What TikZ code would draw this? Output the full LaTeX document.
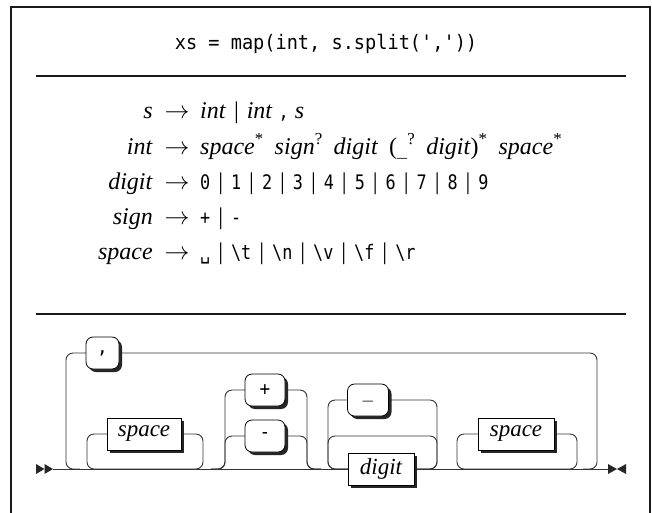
\documentclass[tikz,border=0pt]{standalone}
\usepackage{fontspec}
\setmainfont{Liberation Serif}
\newfontfamily\monof[FakeStretch=0.93]{DejaVu Sans Mono}
\newfontfamily\monog[FakeStretch=0.84]{DejaVu Sans Mono}
\usetikzlibrary{shadows,backgrounds}
\newcommand{\nt}[1]{\textit{#1}}
\newcommand{\tm}[1]{{\monog\fontsize{20}{24}\selectfont #1}}
\newcommand{\orbar}{\hspace{8pt}|\hspace{8pt}}
\newcommand{\gap}{\hspace{11pt}}
\newcommand{\sps}[1]{\textsuperscript{#1}}
\tikzset{
  frameline/.style={line width=1.1pt, draw=black!90},
  gtext/.style={inner sep=0pt, font=\fontsize{24}{28}\selectfont},
  garrow/.style={inner sep=0pt, font=\fontsize{23}{27}\selectfont},
  track/.style={draw=black!80, line width=0.9pt},
  boxshadow/.style={drop shadow={shadow xshift=3pt, shadow yshift=-3pt, opacity=1, fill=black!85}},
  terminal/.style={draw=black, line width=0.8pt, fill=white, rounded corners=7pt,
    minimum width=40pt, minimum height=32pt, inner sep=0pt,
    font=\monof\fontsize{19}{23}\selectfont, boxshadow},
  nonterminal/.style={draw=black, line width=0.8pt, fill=white,
    minimum width=74pt, minimum height=32pt, inner sep=0pt,
    font=\fontsize{23}{27}\selectfont\itshape, boxshadow},
  marker/.style={fill=black!85}
}
\begin{document}
\begin{tikzpicture}[x=1pt,y=-1pt]
\useasboundingbox (0,0) rectangle (652,512);
% frame and rules
\draw[frameline] (11,520) -- (11,7) -- (650,7) -- (650,520);
\draw[frameline] (36,76) -- (626,76);
\draw[frameline] (36,314) -- (626,314);
% title
\node[inner sep=0pt, anchor=base, font=\monof\fontsize{20}{24}\selectfont] (title) at (326,49) {xs = map(int, s.split(','))};
% grammar
\node[gtext, anchor=base east] (lhsS) at (153,118) {\nt{s}};
\node[garrow, anchor=base] (arrS) at (177,118) {$\rightarrow$};
\node[gtext, anchor=base west] (rhsS) at (200,118) {\nt{int}\orbar\nt{int}\hspace{6pt}\tm{,}\hspace{6pt}\nt{s}};

\node[gtext, anchor=base east] (lhsI) at (153,154) {\nt{int}};
\node[garrow, anchor=base] (arrI) at (177,154) {$\rightarrow$};
\node[gtext, anchor=base west] (rhsI) at (200,154) {\nt{space}\sps{*}\gap\nt{sign}\sps{?}\gap\nt{digit}\gap(\tm{\_}\sps{?}\gap\nt{digit})\sps{*}\gap\nt{space}\sps{*}};

\node[gtext, anchor=base east] (lhsD) at (153,189) {\nt{digit}};
\node[garrow, anchor=base] (arrD) at (177,189) {$\rightarrow$};
\node[gtext, anchor=base west] (rhsD) at (200,189) {\tm{0}\orbar\tm{1}\orbar\tm{2}\orbar\tm{3}\orbar\tm{4}\orbar\tm{5}\orbar\tm{6}\orbar\tm{7}\orbar\tm{8}\orbar\tm{9}};

\node[gtext, anchor=base east] (lhsG) at (153,224) {\nt{sign}};
\node[garrow, anchor=base] (arrG) at (177,224) {$\rightarrow$};
\node[gtext, anchor=base west] (rhsG) at (200,224) {\tm{+}\orbar\tm{-}};

\node[gtext, anchor=base east] (lhsP) at (153,259) {\nt{space}};
\node[garrow, anchor=base] (arrP) at (177,259) {$\rightarrow$};
\node[gtext, anchor=base west] (rhsP) at (200,259) {\tm{\symbol{"2423}}\orbar\tm{\textbackslash t}\orbar\tm{\textbackslash n}\orbar\tm{\textbackslash v}\orbar\tm{\textbackslash f}\orbar\tm{\textbackslash r}};

% railroad boxes
\node[terminal, minimum width=33pt] (comma) at (102.5,353) {,};
\node[nonterminal] (spc1) at (144,434) {space};
\node[terminal] (plus) at (265,390) {+};
\node[terminal] (minus) at (265,436) {-};
\node[terminal, minimum width=41pt] (under) at (368,400) {\_};
\node[nonterminal, minimum width=66pt] (dig) at (381,469) {digit};
\node[nonterminal, minimum width=76pt] (spc2) at (516,434) {space};
\coordinate (start) at (53,469);
\coordinate (finish) at (608,469);
% markers
\fill[marker] (36,464) -- (44.5,469) -- (36,474) -- cycle;
\fill[marker] (44.5,464) -- (53,469) -- (44.5,474) -- cycle;
\fill[marker] (608,464) -- (617,469) -- (608,474) -- cycle;
\fill[marker] (626,464) -- (617,469) -- (626,474) -- cycle;
% tracks
\begin{scope}[on background layer]
\draw[track] (start) -- (finish);
\draw[track, rounded corners=7pt] (583,469) -- (597,469) -- (597,353) -- (comma.east) -- (comma.west) -- (66,353) -- (66,469) -- (80,469);
\draw[track, rounded corners=7pt] (87,434) rectangle (203,469);
\draw[track, rounded corners=7pt] (211,469) -- (225,469) -- (225,390) -- (plus.west) -- (plus.east) -- (307,390) -- (307,469) -- (321,469);
\draw[track, rounded corners=7pt] (211,469) -- (225,469) -- (225,436) -- (minus.west) -- (minus.east) -- (307,436) -- (307,469) -- (321,469);
\draw[track, rounded corners=7pt] (328,400) rectangle (437,469);
\draw[track, rounded corners=7pt] (328,436) rectangle (437,469);
\draw[track, rounded corners=7pt] (457,434) rectangle (577,469);
\end{scope}
\end{tikzpicture}
\end{document}
